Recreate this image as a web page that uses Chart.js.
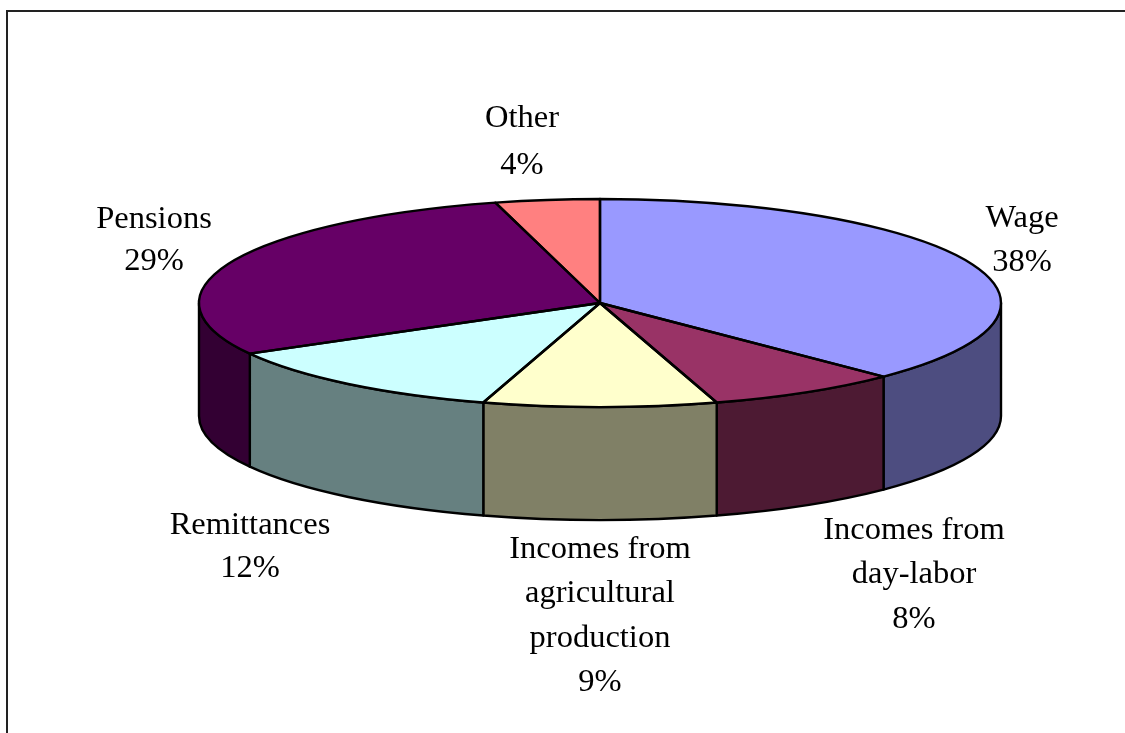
<!DOCTYPE html>
<html><head><meta charset="utf-8">
<style>html,body{margin:0;padding:0;background:#fff;overflow:hidden}canvas{display:block}</style>
<script src="https://cdn.jsdelivr.net/npm/chart.js@4"></script></head>
<body><div style="width:1125px;height:733px;position:relative"><canvas id="c"></canvas></div>
<script>
const categories = ['Wage','Incomes from day-labor','Incomes from agricultural production','Remittances','Pensions','Other'];
const shares = [37.5, 7.8, 9.4, 12.2, 28.9, 4.2];
const topColors = ['#9999FF','#993366','#FFFFCC','#CCFFFF','#660066','#FF8080'];
const sideColors = ['#4D4D80','#4D1A33','#808066','#668080','#330033','#804040'];
const labelLines = [['Wage'],['Incomes from','day-labor'],['Incomes from','agricultural','production'],['Remittances'],['Pensions'],['Other']];
const labelAnchors = [[1022,218],[914,530],[600,549],[250,525],[154,219],[522,118]];
const labelGaps = [44,44.5,44.5,43,42,47];

const CX=600, CY=303, RX=401, RY=104, DEPTH=113, FS=32.5;
const pseudo3d = {
  id:'pseudo3d',
  xform(ctx,a){ ctx.translate(CX,CY); ctx.scale(RX/a.outerRadius,RY/a.outerRadius); ctx.translate(-a.x,-a.y); },
  beforeDraw(chart){
    const ctx=chart.ctx; ctx.save(); ctx.fillStyle='#fff'; ctx.fillRect(0,0,chart.width,chart.height);
    ctx.strokeStyle='#222'; ctx.lineWidth=2; ctx.beginPath(); ctx.moveTo(7,chart.height); ctx.lineTo(7,11); ctx.lineTo(chart.width,11); ctx.stroke(); ctx.restore();
  },
  beforeDatasetsDraw(chart){
    const ctx=chart.ctx, arcs=chart.getDatasetMeta(0).data;
    ctx.save(); ctx.lineWidth=2.4; ctx.strokeStyle='#000'; ctx.lineJoin='round';
    arcs.forEach((a,i)=>{
      let s=a.startAngle, e=a.endAngle;
      const segs=[[s,e],[s+2*Math.PI,e+2*Math.PI],[s-2*Math.PI,e-2*Math.PI]];
      segs.forEach(([u,v])=>{
        const lo=Math.max(u,0), hi=Math.min(v,Math.PI);
        if(hi<=lo) return;
        ctx.beginPath();
        ctx.ellipse(CX,CY,RX,RY,0,lo,hi);
        ctx.ellipse(CX,CY+DEPTH,RX,RY,0,hi,lo,true);
        ctx.closePath();
        ctx.fillStyle=sideColors[i]; ctx.fill(); ctx.stroke();
      });
    });
    ctx.restore();
    ctx.save();
    this.xform(ctx,arcs[0]);
  },
  afterDatasetsDraw(chart){
    const ctx=chart.ctx, arcs=chart.getDatasetMeta(0).data;
    ctx.restore();
    ctx.save(); ctx.lineWidth=2.4; ctx.strokeStyle='#000'; ctx.lineJoin='round';
    arcs.forEach(a=>{
      ctx.save(); this.xform(ctx,a);
      ctx.beginPath(); ctx.moveTo(a.x,a.y); ctx.arc(a.x,a.y,a.outerRadius,a.startAngle,a.endAngle); ctx.closePath();
      ctx.restore(); ctx.stroke();
    });
    ctx.fillStyle='#000'; ctx.font=FS+'px "Liberation Serif"'; ctx.textAlign='center'; ctx.textBaseline='middle';
    const total=shares.reduce((p,q)=>p+q,0);
    labelLines.forEach((lines,i)=>{
      const [x,y]=labelAnchors[i];
      [...lines, Math.round(shares[i]/total*100)+'%'].forEach((t,k)=>ctx.fillText(t,x,y+k*labelGaps[i]));
    });
    ctx.restore();
  }
};
new Chart(document.getElementById('c'),{
  type:'pie',
  data:{labels:categories,datasets:[{data:shares,backgroundColor:topColors,borderWidth:0}]},
  options:{responsive:true,maintainAspectRatio:false,animation:false,
    plugins:{legend:{display:false},tooltip:{enabled:false}}},
  plugins:[pseudo3d]
});
</script></body></html>
